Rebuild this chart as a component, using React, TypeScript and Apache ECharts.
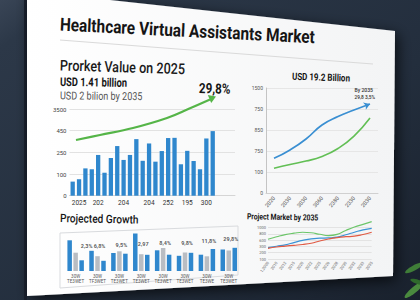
import React, { useEffect, useRef } from "react";
import * as echarts from "echarts";

// ---- data ----
const barCategories = ["", "2025", "", "", "202", "", "", "", "204", "", "", "", "204", "", "", "252", "", "", "195", "", "", "300", "", "", "", ""];
const barValues = [0.65, 0.76, 1.26, 1.22, 1.88, 1.06, 1.74, 2.29, 1.65, 1.88, 2.61, 1.61, 2.41, 1.57, 2.06, 2.66, 2.67, 1.45, 2.07, 1.6, 1.22, 2.64, 2.98];
const barTickLabels = ["0", "100", "250", "450", "3500"];

const lineYears = ["2020", "2030", "3030", "3060", "2380", "2330", "2030"];
const lineBlue = [1.65, 2.05, 2.57, 3.24, 3.64, 3.95, 4.24];
const lineGreen = [1.18, 1.36, 1.52, 1.74, 2.12, 2.71, 3.57];
const lineTickLabels = ["0", "100", "750", "850", "750", "1500"];

const groupCats = ["30W\nTE3WET", "30W\nTF3WET", "30W\nTE3WET", "30W\nTE3WET", "30W\nTE3WET", "30W\nTE3WET", "30W\nTE3WE", "30W\nTE3WET"];
const groupBlueA = [30.7, 20.2, 18, 37.5, 20.7, 15.2, 16.3, 21.5];
const groupGray = [18.3, 14.8, 19.7, 16.8, 23, 18.5, 14.7, 20.5];
const groupBlueB = [10.7, 10.2, 17.3, 16.2, 16.3, 18.2, 22, 23.2];
const growthLabels = ["2,3%", "6,8%", "9,5%", "2,97", "8,4%", "9,8%", "11,8%", "29,8%"];
const growthLabelLevels = [25, 25.5, 26, 27, 28.5, 28, 30.5, 32];

const mktCats = ["1,2000", "2010", "2012", "2015", "2020", "2022", "2025", "2026", "2028", "2030", "2032", "2033", "2035"];
const mktGreen = [3.15, 3.55, 3.9, 4.12, 4.27, 4.19, 3.95, 3.74, 3.93, 4.55, 5.11, 5.54, 5.96];
const mktBlue = [1.81, 2.04, 2.27, 2.62, 2.97, 3.23, 3.32, 3.37, 3.48, 3.87, 4.28, 4.66, 4.9];
const mktRed = [1.71, 1.92, 2.06, 2.19, 2.32, 2.52, 2.88, 3.19, 3.42, 3.56, 3.64, 3.91, 4.27];
const mktTickLabels = ["100", "200", "300", "600", "800", "1000"];

const FONT = "Roboto, 'Liberation Sans', Arial, sans-serif";
const BLUE = "#2f87cd";
const GRAY = "#b9bdc3";
const GREEN = "#62bf55";

function txt(text: string, x: number, y: number, size: number, weight: any, color: string, rot: number, sx = 0.82, align = "left") {
  return {
    type: "text",
    x,
    y,
    rotation: rot,
    scaleX: sx,
    z: 50,
    silent: true,
    style: { text, fontSize: size, fontWeight: weight, fontFamily: FONT, fill: color, textAlign: align, textVerticalAlign: "middle" },
  };
}

export default function App() {
  const ref = useRef<HTMLDivElement>(null);
  useEffect(() => {
    if (!ref.current) return;
    const chart = echarts.init(ref.current, null, { renderer: "svg" });
    const option: any = {
      animation: false,
      backgroundColor: "#222c3a",
      graphic: {
        elements: [
          {
            type: "rect",
            z: -20,
            shape: { x: 0, y: 0, width: 420, height: 300 },
            style: {
              fill: new echarts.graphic.LinearGradient(0, 0, 1, 1, [
                { offset: 0, color: "#394556" },
                { offset: 0.08, color: "#2c3848" },
                { offset: 0.6, color: "#232e3d" },
                { offset: 1, color: "#19212d" },
              ]),
            },
          },
          { type: "line", z: -19, shape: { x1: 25.5, y1: 0, x2: 25.5, y2: 300 }, style: { stroke: "#1b2230", lineWidth: 3 } },
          {
            type: "polygon",
            z: -18,
            shape: { points: [[27, -9], [395, 31], [393, 276], [27, 296]] },
            style: {
              fill: new echarts.graphic.LinearGradient(0, 0, 1, 0, [
                { offset: 0, color: "#ffffff" },
                { offset: 1, color: "#f3f4f5" },
              ]),
              shadowBlur: 14,
              shadowColor: "rgba(0,0,0,0.7)",
              shadowOffsetX: 3,
              shadowOffsetY: 4,
            },
          },
          { type: "line", z: -17, shape: { x1: 60, y1: 40, x2: 373, y2: 64 }, style: { stroke: "#dadada", lineWidth: 1 } },
          {
            type: "polygon",
            z: -17,
            shape: { points: [[60, 233], [238, 226], [238, 275], [60, 288]] },
            style: { fill: "rgba(0,0,0,0)", stroke: "#d9dbde", lineWidth: 1 },
          },
          // green trend arrow
          {
            type: "polyline",
            z: 40,
            shape: { points: [[76, 140], [100, 135], [133, 128], [167, 118], [190, 108.3], [210, 99.5]], smooth: 0.4 },
            style: { stroke: "#55b548", lineWidth: 2.2, fill: null },
          },
          { type: "polygon", z: 40, shape: { points: [[216, 96.5], [211.2, 103], [207.8, 95]] }, style: { fill: "#55b548" } },
          // plant leaves
          { type: "ellipse", z: -16, x: 414, y: 268, rotation: 0.5, shape: { cx: 0, cy: 0, rx: 10, ry: 2.6 }, style: { fill: "#3f7d38" } },
          { type: "ellipse", z: -16, x: 414, y: 290, rotation: 0.7, shape: { cx: 0, cy: 0, rx: 12, ry: 3 }, style: { fill: "#4a8a3e" } },
          { type: "ellipse", z: -16, x: 418, y: 282, rotation: -0.3, shape: { cx: 0, cy: 0, rx: 8, ry: 2.2 }, style: { fill: "#2f6a2c" } },
          // texts
          txt("Healthcare Virtual Assistants Market", 60, 24, 18, "bold", "#151515", -0.05, 0.855),
          txt("Prorket Value on 2025", 60, 65, 15, 500, "#1a1a1a", -0.03, 0.84),
          txt("USD 1.41 billion", 60, 82, 12, "bold", "#151515", -0.015, 0.78),
          txt("USD 2 bilion by 2035", 60, 95.5, 11, "normal", "#555555", -0.01, 0.82),
          txt("29,8%", 199, 88, 14, "bold", "#151515", -0.03, 0.83),
          txt("USD 19.2 Billion", 292, 76.5, 10, "bold", "#151515", -0.03, 0.8),
          txt("By 2035", 373, 90, 6, 500, "#333333", 0, 0.85, "right"),
          txt("29,8 3,5%", 375, 97, 6, 500, "#333333", 0, 0.8, "right"),
          txt("Projected Growth", 60, 218.3, 11.5, 500, "#151515", -0.02, 0.88),
          txt("Project Market by 2035", 247, 216.5, 8.5, "bold", "#151515", -0.02, 0.8),
        ],
      },
      grid: [
        { left: 69.5, top: 109, width: 165.5, height: 86.7 },
        { left: 266, top: 88, width: 112, height: 105 },
        { left: 64.7, top: 231, width: 175, height: 40 },
        { left: 268, top: 227.7, width: 103.7, height: 31.3 },
      ],
      xAxis: [
        {
          type: "category",
          gridIndex: 0,
          data: barCategories,
          axisLine: { show: true, lineStyle: { color: "#d5d5d5" } },
          axisTick: { show: false },
          axisLabel: { interval: 0, fontSize: 6.5, color: "#333", margin: 4, fontFamily: FONT },
        },
        {
          type: "category",
          gridIndex: 1,
          data: lineYears,
          boundaryGap: true,
          axisLine: { show: true, lineStyle: { color: "#d0d0d0" } },
          axisTick: { show: false },
          axisLabel: { interval: 0, rotate: 50, fontSize: 5.5, color: "#555", margin: 4, fontFamily: FONT },
        },
        {
          type: "category",
          gridIndex: 2,
          data: groupCats,
          axisLine: { show: false },
          axisTick: { show: false },
          axisLabel: { interval: 0, fontSize: 4.5, lineHeight: 5, color: "#555", margin: 3, fontFamily: FONT },
        },
        {
          type: "category",
          gridIndex: 3,
          data: mktCats,
          boundaryGap: false,
          axisLine: { show: false },
          axisTick: { show: false },
          axisLabel: { interval: 0, rotate: 55, fontSize: 4, color: "#666", margin: 3, fontFamily: FONT },
        },
      ],
      yAxis: [
        {
          type: "value",
          gridIndex: 0,
          min: 0,
          max: 4,
          interval: 1,
          axisLine: { show: false },
          axisTick: { show: false },
          splitLine: { lineStyle: { color: "#e2e2e2" } },
          axisLabel: { formatter: (v: number) => barTickLabels[v] ?? "", fontSize: 6, color: "#444", margin: 3, fontFamily: FONT },
        },
        {
          type: "value",
          gridIndex: 1,
          min: 0,
          max: 5,
          interval: 1,
          axisLine: { show: true, lineStyle: { color: "#c4c4c4" } },
          axisTick: { show: false },
          splitLine: { lineStyle: { color: "#e6e6e6" } },
          axisLabel: { formatter: (v: number) => lineTickLabels[v] ?? "", fontSize: 5, color: "#555", margin: 3, fontFamily: FONT },
        },
        { type: "value", gridIndex: 2, min: 0, max: 40, show: false },
        {
          type: "value",
          gridIndex: 3,
          min: 0,
          max: 5,
          interval: 1,
          axisLine: { show: false },
          axisTick: { show: false },
          splitLine: { lineStyle: { color: "#e3e3e3" } },
          axisLabel: { formatter: (v: number) => mktTickLabels[v] ?? "", fontSize: 4, color: "#666", margin: 2, fontFamily: FONT },
        },
      ],
      series: [
        { type: "bar", xAxisIndex: 0, yAxisIndex: 0, data: barValues, barWidth: 4.3, itemStyle: { color: BLUE } },
        {
          type: "line",
          xAxisIndex: 1,
          yAxisIndex: 1,
          smooth: 0.5,
          symbol: "circle",
          symbolSize: 0,
          showSymbol: true,
          lineStyle: { color: "#3a8fd2", width: 1.7 },
          itemStyle: { color: "#3a8fd2" },
          data: lineBlue.map((v, i) =>
            i === lineBlue.length - 1 ? { value: v, symbol: "arrow", symbolSize: 6, symbolRotate: -69 } : v
          ),
        },
        {
          type: "line",
          xAxisIndex: 1,
          yAxisIndex: 1,
          smooth: 0.5,
          symbol: "none",
          lineStyle: { color: GREEN, width: 1.6 },
          data: lineGreen,
        },
        { type: "bar", xAxisIndex: 2, yAxisIndex: 2, data: groupBlueA, barWidth: 4.5, barGap: "33%", itemStyle: { color: BLUE } },
        { type: "bar", xAxisIndex: 2, yAxisIndex: 2, data: groupGray, barWidth: 4.5, barGap: "33%", itemStyle: { color: GRAY } },
        { type: "bar", xAxisIndex: 2, yAxisIndex: 2, data: groupBlueB, barWidth: 4.5, barGap: "33%", itemStyle: { color: BLUE } },
        {
          type: "scatter",
          xAxisIndex: 2,
          yAxisIndex: 2,
          symbolSize: 0,
          silent: true,
          data: growthLabelLevels.map((v, i) => ({ value: v, label: { offset: [i === 0 ? 11 : 2, 0] } })),
          label: {
            show: true,
            position: "inside",
            formatter: (p: any) => growthLabels[p.dataIndex],
            fontSize: 5.5,
            fontWeight: "bold",
            color: "#333",
            fontFamily: FONT,
          },
        },
        { type: "line", xAxisIndex: 3, yAxisIndex: 3, smooth: 0.5, symbol: "none", clip: false, lineStyle: { color: "#6cc66a", width: 1.2 }, data: mktGreen },
        { type: "line", xAxisIndex: 3, yAxisIndex: 3, smooth: 0.5, symbol: "none", clip: false, lineStyle: { color: "#3a93d6", width: 1.2 }, data: mktBlue },
        { type: "line", xAxisIndex: 3, yAxisIndex: 3, smooth: 0.5, symbol: "none", clip: false, lineStyle: { color: "#e05a44", width: 1.2 }, data: mktRed },
      ],
    };
    chart.setOption(option);
    return () => chart.dispose();
  }, []);
  return <div ref={ref} style={{ position: "fixed", left: 0, top: 0, width: 420, height: 300 }} />;
}
